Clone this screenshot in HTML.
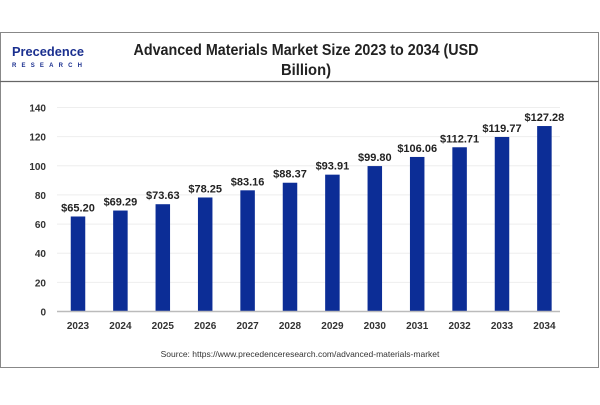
<!DOCTYPE html>
<html><head><meta charset="utf-8"><style>
body{margin:0;width:600px;height:400px;background:#fff;font-family:"Liberation Sans",sans-serif;overflow:hidden}
</style></head><body>
<svg width="600" height="400">
<rect x="0.5" y="32.5" width="598" height="335" fill="none" stroke="#888" stroke-width="1"/>
<line x1="0" y1="81.5" x2="599" y2="81.5" stroke="#666" stroke-width="1.2"/>
<g>
<text x="12" y="56" font-size="13" fill="#1a2f8f" font-weight="bold" textLength="72" lengthAdjust="spacingAndGlyphs">Precedence</text>
<text x="12" y="67" font-size="6" fill="#1a2f8f" font-weight="bold" textLength="70">RESEARCH</text>
</g>
<text x="306" y="55" text-anchor="middle" font-size="16" font-weight="bold" fill="#222" textLength="345" lengthAdjust="spacingAndGlyphs">Advanced Materials Market Size 2023 to 2034 (USD</text>
<text x="306" y="75" text-anchor="middle" font-size="16" font-weight="bold" fill="#222" textLength="50" lengthAdjust="spacingAndGlyphs">Billion)</text>
<g id="grid"></g><g id="bars"></g><g id="axes"></g>
<text x="300" y="357" text-anchor="middle" font-size="8.5" fill="#333">Source: https://www.precedenceresearch.com/advanced-materials-market</text>
</svg>
<script>
const categories=["2023","2024","2025","2026","2027","2028","2029","2030","2031","2032","2033","2034"];
const values=[65.20,69.29,73.63,78.25,83.16,88.37,93.91,99.80,106.06,112.71,119.77,127.28];
const valueLabels=["$65.20","$69.29","$73.63","$78.25","$83.16","$88.37","$93.91","$99.80","$106.06","$112.71","$119.77","$127.28"];
const yTicks=[0,20,40,60,80,100,120,140];
const NS="http://www.w3.org/2000/svg";
const y0=311.5,yTop=107.5,yMax=140;
const y=v=>y0-(v/yMax)*(y0-yTop);
const x=i=>78+i*42.4;
const bw=14.5;
function mk(tag,attrs,parent,txt){const e=document.createElementNS(NS,tag);for(const k in attrs)e.setAttribute(k,attrs[k]);if(txt!==undefined)e.textContent=txt;document.getElementById(parent).appendChild(e);return e;}
yTicks.forEach((t,i)=>{
 if(t>0){const g=mk('line',{x1:57,x2:560,y1:y(t),y2:y(t),stroke:'#eee','stroke-width':1},'grid');
 
 }
 const l=mk('text',{x:46,y:y(t)+4,'text-anchor':'end','font-size':10,'font-weight':'bold',fill:'#333'},'axes',t);
 
 
});
const ax=mk('line',{x1:57,x2:560,y1:y0,y2:y0,stroke:'#bbb','stroke-width':1.5},'axes');


categories.forEach((c,i)=>{
 const r=mk('rect',{x:x(i)-bw/2,y:y(values[i]),width:bw,height:y0-y(values[i]),fill:'#0c2d96'},'bars');
 
 
 const v=mk('text',{x:x(i),y:y(values[i])-5,'text-anchor':'middle','font-size':11,'font-weight':'bold',fill:'#222'},'bars',valueLabels[i]);
 
 
 const t=mk('text',{x:x(i),y:329,'text-anchor':'middle','font-size':10,'font-weight':'bold',fill:'#333'},'axes',c);
 
 
});
</script>
</body></html>
